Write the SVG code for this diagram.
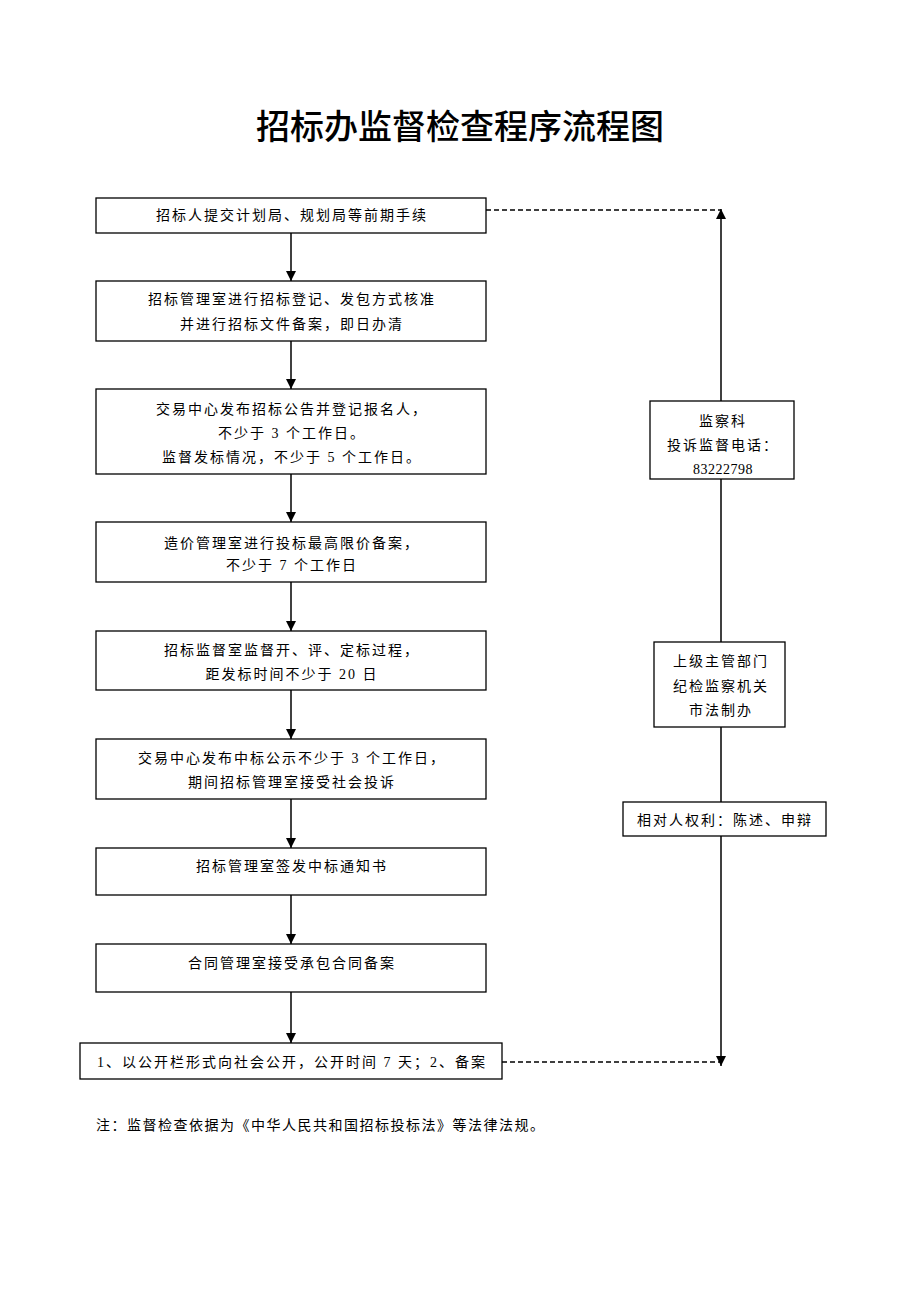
<svg xmlns="http://www.w3.org/2000/svg" width="920" height="1302" viewBox="0 0 920 1302">
<style>
.box{fill:#fff;stroke:#000;stroke-width:1.3}
.t{font-family:"Liberation Serif","Noto Sans CJK SC",serif;font-size:14px;letter-spacing:2px;text-anchor:middle;fill:#000}
.num{letter-spacing:0.5px}
.title{font-family:"Noto Sans CJK SC",sans-serif;font-size:34px;font-weight:500;text-anchor:middle;fill:#000}
.ln{stroke:#000;stroke-width:1.5;fill:none}
.dash{stroke:#000;stroke-width:1.4;fill:none;stroke-dasharray:5 3}
</style>
<defs>
<marker id="ah" viewBox="0 0 10 10" refX="10" refY="5" markerWidth="10" markerHeight="10" markerUnits="userSpaceOnUse" orient="auto">
<path d="M0,0 L10,5 L0,10 z" fill="#000"/>
</marker>
</defs>
<rect width="920" height="1302" fill="#fff"/>
<text class="title" x="460" y="139">招标办监督检查程序流程图</text>

<g id="n1"><rect class="box" x="96" y="198" width="390" height="35"/><text class="t" x="292" y="220">招标人提交计划局、规划局等前期手续</text></g>
<g id="n2"><rect class="box" x="96" y="281" width="390" height="60"/><text class="t" x="292" y="304">招标管理室进行招标登记、发包方式核准</text><text class="t" x="292" y="329">并进行招标文件备案，即日办清</text></g>
<g id="n3"><rect class="box" x="96" y="389" width="390" height="85"/><text class="t" x="292" y="414">交易中心发布招标公告并登记报名人，</text><text class="t" x="292" y="438">不少于 3 个工作日。</text><text class="t" x="292" y="462">监督发标情况，不少于 5 个工作日。</text></g>
<g id="n4"><rect class="box" x="96" y="522" width="390" height="60"/><text class="t" x="292" y="548">造价管理室进行投标最高限价备案，</text><text class="t" x="292" y="570">不少于 7 个工作日</text></g>
<g id="n5"><rect class="box" x="96" y="631" width="390" height="59"/><text class="t" x="292" y="655">招标监督室监督开、评、定标过程，</text><text class="t" x="292" y="679">距发标时间不少于 20 日</text></g>
<g id="n6"><rect class="box" x="96" y="739" width="390" height="60"/><text class="t" x="292" y="763">交易中心发布中标公示不少于 3 个工作日，</text><text class="t" x="292" y="787">期间招标管理室接受社会投诉</text></g>
<g id="n7"><rect class="box" x="96" y="848" width="390" height="47"/><text class="t" x="292" y="871">招标管理室签发中标通知书</text></g>
<g id="n8"><rect class="box" x="96" y="944" width="390" height="48"/><text class="t" x="292" y="968">合同管理室接受承包合同备案</text></g>
<g id="n9"><rect class="box" x="80" y="1043" width="422" height="36"/><text class="t" x="292" y="1067">1、以公开栏形式向社会公开，公开时间 7 天；2、备案</text></g>

<g id="connectors">
<line class="ln" x1="291" y1="233" x2="291" y2="281" marker-end="url(#ah)"/>
<line class="ln" x1="291" y1="341" x2="291" y2="389" marker-end="url(#ah)"/>
<line class="ln" x1="291" y1="474" x2="291" y2="522" marker-end="url(#ah)"/>
<line class="ln" x1="291" y1="582" x2="291" y2="631" marker-end="url(#ah)"/>
<line class="ln" x1="291" y1="690" x2="291" y2="739" marker-end="url(#ah)"/>
<line class="ln" x1="291" y1="799" x2="291" y2="848" marker-end="url(#ah)"/>
<line class="ln" x1="291" y1="895" x2="291" y2="944" marker-end="url(#ah)"/>
<line class="ln" x1="291" y1="992" x2="291" y2="1043" marker-end="url(#ah)"/>
<line class="dash" x1="486" y1="210" x2="721" y2="210"/>
<line class="dash" x1="502" y1="1062" x2="721" y2="1062"/>
<line class="ln" x1="721" y1="640" x2="721" y2="209" marker-end="url(#ah)"/>
<line class="ln" x1="721" y1="640" x2="721" y2="1066" marker-end="url(#ah)"/>
</g>

<g id="r1"><rect class="box" x="650" y="401" width="144" height="78"/><text class="t" x="723" y="426">监察科</text><text class="t" x="723" y="450">投诉监督电话：</text><text class="t num" x="723" y="474">83222798</text></g>
<g id="r2"><rect class="box" x="654" y="642" width="131" height="85"/><text class="t" x="721" y="666">上级主管部门</text><text class="t" x="721" y="691">纪检监察机关</text><text class="t" x="721" y="715">市法制办</text></g>
<g id="r3"><rect class="box" x="623" y="802" width="203" height="34"/><text class="t" x="725" y="825">相对人权利：陈述、申辩</text></g>

<text x="96" y="1130" style="font-family:'Liberation Serif','Noto Sans CJK SC',serif;font-size:14px;letter-spacing:1.5px;fill:#000">注：监督检查依据为《中华人民共和国招标投标法》等法律法规。</text>
</svg>
